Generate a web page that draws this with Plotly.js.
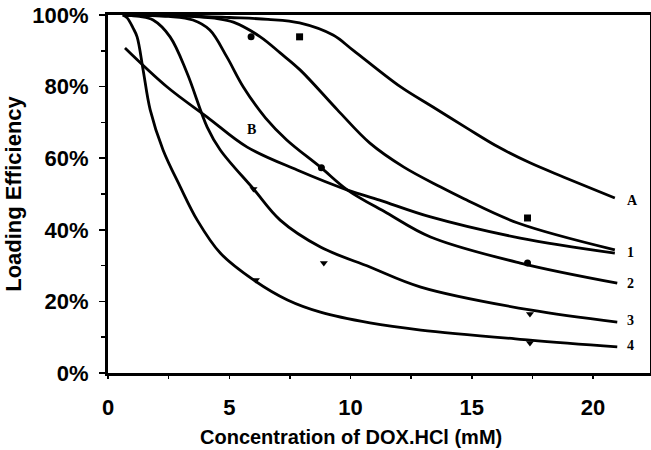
<!DOCTYPE html>
<html><head><meta charset="utf-8">
<script src="https://cdn.plot.ly/plotly-3.0.1.min.js"></script>
<style>html,body{margin:0;padding:0;background:#fff}#c{width:651px;height:450px}</style>
</head><body><div id="c"></div>
<script>
// Curves (fitted lines)
const xA = [0.7, 3, 5, 6.6, 7.9, 9.28, 10.1, 12.07, 13.4, 14.8, 16.1, 17.4, 18.8, 20.9];
const yA = [100, 99.8, 99.3, 98.8, 97.8, 94.4, 90.2, 79.9, 74.3, 68.4, 63.1, 58.7, 54.7, 48.9];
const x1 = [0.7, 3, 4.5, 5.17, 6.28, 7.1, 7.93, 9.46, 10.8, 12.2, 13.7, 14.7, 16.9, 20.9];
const y1 = [100, 99.7, 99, 98, 93.9, 89.4, 84.6, 73.5, 64.2, 57.5, 52.0, 48.6, 41.9, 34.4];
const x2 = [0.7, 2.5, 3.5, 4.2, 4.9, 5.58, 6.5, 7.37, 8.76, 9.88, 11.5, 13.3, 17.0, 21.0];
const y2 = [100, 99.6, 98.6, 95.8, 88.3, 79.9, 71.2, 65.1, 57.5, 51.1, 44.7, 38.0, 30.7, 25.1];
const x3 = [0.7, 1.3, 1.86, 2.56, 3.26, 4.09, 4.63, 6.0, 7.1, 8.76, 10.8, 12.9, 17.4, 21.0];
const y3 = [100, 99.6, 98.6, 93.9, 83.8, 68.7, 62.3, 51.4, 42.7, 35.2, 29.6, 24.0, 17.6, 14.2];
const x4 = [0.6, 0.79, 1.03, 1.2, 1.45, 1.74, 2.27, 2.98, 3.68, 4.63, 6.0, 7.4, 8.76, 10.8, 12.9, 17.4, 21.0];
const y4 = [100, 99.2, 96.4, 93.9, 84.6, 73.5, 62.3, 52.0, 42.7, 33.5, 26.0, 20.4, 17.0, 14.0, 12.0, 9.2, 7.3];
const xB = [0.7, 2.44, 4.09, 5.74, 7.8, 9.88, 11.2, 13.3, 17.0, 20.9];
const yB = [90.8, 79.9, 71.5, 63.1, 56.7, 51.1, 48.3, 43.6, 37.7, 33.5];

// Measured points
const m1x = [7.9, 17.3], m1y = [93.9, 43.3];
const m2x = [5.9, 8.8, 17.3], m2y = [93.9, 57.3, 30.7];
const m3x = [6.0, 8.9, 17.4], m3y = [51.4, 30.7, 16.5];
const m4x = [6.1, 17.4], m4y = [26, 8.4];

// Curve labels
const labText = ['A', '1', '2', '3', '4', 'B'];
const labX = [21.3, 21.3, 21.3, 21.3, 21.3, 5.66];
const labY = [48.3, 33.8, 25.1, 14.8, 7.8, 67.9];

const xTitle = 'Concentration of DOX.HCl (mM)';
const yTitle = 'Loading Efficiency';

const lineStyle = {color: '#000', width: 2.8, shape: 'spline', smoothing: 1};
function curve(x, y) { return {x: x, y: y, mode: 'lines', line: lineStyle, hoverinfo: 'skip'}; }
function pts(x, y, sym) { return {x: x, y: y, mode: 'markers', marker: {symbol: sym, size: 7, color: '#000'}}; }

const data = [
  curve(xA, yA), curve(x1, y1), curve(x2, y2), curve(x3, y3), curve(x4, y4), curve(xB, yB),
  pts(m1x, m1y, 'square'), pts(m2x, m2y, 'circle'), pts(m3x, m3y, 'triangle-down'), pts(m4x, m4y, 'triangle-down')
];

const annotations = labText.map((t, i) => ({
  x: labX[i], y: labY[i], text: '<b>' + t + '</b>', showarrow: false, xanchor: 'left', yanchor: 'middle',
  font: {family: 'Liberation Serif, serif', size: 14, color: '#000'}
}));

const axisFont = {family: 'Liberation Sans, Arial, sans-serif', size: 22, color: '#000', weight: 'bold'};
const xTitleFont = {family: 'Liberation Sans, Arial, sans-serif', size: 20, color: '#000', weight: 'bold'};

// x-axis title, centred under the "10" tick as in the original
annotations.push({
  xref: 'x', yref: 'paper', x: 10, y: 0, yshift: -64, xanchor: 'center', yanchor: 'middle',
  text: xTitle, showarrow: false, font: xTitleFont
});

const layout = {
  width: 651, height: 450,
  margin: {l: 108, r: 1, t: 15, b: 77},
  showlegend: false,
  paper_bgcolor: '#fff', plot_bgcolor: '#fff',
  xaxis: {
    range: [0, 22.35], dtick: 5, tick0: 0, showgrid: false, zeroline: false,
    showline: true, linecolor: '#000', linewidth: 3, mirror: true,
    ticks: 'outside', ticklen: 3, tickwidth: 1.5, tickcolor: '#000',
    minor: {dtick: 2.5, ticks: 'outside', ticklen: 3, tickcolor: '#000', showgrid: false},
    tickfont: axisFont, ticklabelstandoff: 10
  },
  yaxis: {
    range: [0, 100], dtick: 20, tick0: 0, ticksuffix: '%', showgrid: false, zeroline: false,
    showline: true, linecolor: '#000', linewidth: 3, mirror: true,
    ticks: 'outside', ticklen: 6, tickwidth: 1.5, tickcolor: '#000',
    minor: {dtick: 10, ticks: 'outside', ticklen: 4, tickcolor: '#000', showgrid: false},
    tickfont: axisFont, ticklabelstandoff: 6,
    title: {text: yTitle, font: axisFont, standoff: 5}
  },
  annotations: annotations
};

Plotly.newPlot('c', data, layout, {displayModeBar: false, staticPlot: true});
</script></body></html>
